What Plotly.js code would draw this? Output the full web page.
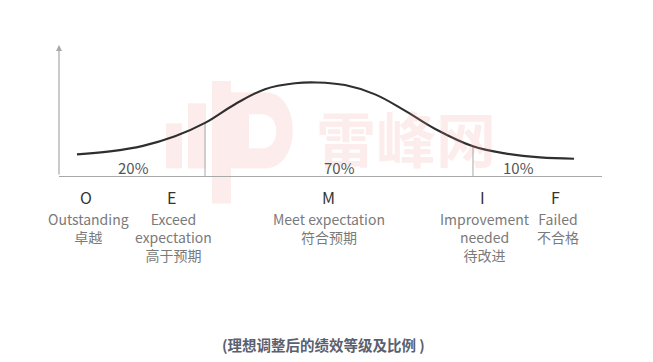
<!DOCTYPE html>
<html>
<head>
<meta charset="utf-8">
<script src="https://cdn.plot.ly/plotly-3.0.1.min.js"></script>
<style>html,body{margin:0;padding:0;background:#fff;}#chart{width:653px;height:362px;}</style>
</head>
<body>
<div id="chart"></div>
<script>
// ---- data ----
var curveX = [3.31, 9.39, 15.47, 21.36, 26.89, 32.41, 37.94, 43.46, 47.51, 52.67, 58.2, 63.7, 69.2, 76.24, 82.14, 88.58, 94.84];
var curveY = [16.5, 18.8, 23.0, 30.3, 40.5, 54.8, 66.3, 70.8, 71.4, 69.4, 62.3, 49.9, 36.1, 22.7, 17.3, 14.2, 13.2];

var grades = ['O', 'E', 'M', 'I', 'F'];
var gradePos = [4.97, 20.8, 49.7, 77.9, 91.5];
var gradeDesc = ['Outstanding<br>卓越', 'Exceed<br>expectation<br>高于预期', 'Meet expectation<br>符合预期', 'Improvement<br>needed<br>待改进', 'Failed<br>不合格'];
var descPos = [5.5, 21.0, 49.7, 78.5, 91.9];

var shareLabels = ['20%', '70%', '10%'];
var sharePos = [13.8, 51.6, 84.7];

var dividerX = [26.89, 76.24];
var dividerTop = [40.5, 22.7];

var caption = '(理想调整后的绩效等级及比例 )';

// ---- build ----
var FONT = '"Noto Sans CJK SC", "Noto Sans", sans-serif';
var L = 59, R = 51, T = 45, B = 186.4;
var PW = 653 - L - R, PH = 362 - T - B;
function px(x) { return (x - L) / PW; }
function py(y) { return (362 - B - y) / PH; }

var divX = [], divY = [];
dividerX.forEach(function (x, i) { divX.push(x, x, null); divY.push(0, dividerTop[i], null); });

var traces = [
  { x: divX, y: divY, mode: 'lines', line: { color: '#a8a8a8', width: 1 }, hoverinfo: 'skip' },
  { x: curveX, y: curveY, mode: 'lines', line: { color: '#2f2f2f', width: 2.1, shape: 'spline', smoothing: 1.1 }, hoverinfo: 'skip' }
];

var ann = [];
// watermark text (decoration, drawn first)
ann.push({ x: px(406), y: py(136), xref: 'paper', yref: 'paper', text: '<b>雷峰网</b>', showarrow: false,
  font: { family: FONT, size: 60, color: 'rgba(240,150,140,0.17)' }, xanchor: 'center', yanchor: 'middle' });
// y axis arrow
ann.push({ x: 0, y: 100, ax: 0, ay: 0, xref: 'x', yref: 'y', axref: 'x', ayref: 'y', text: '', showarrow: true,
  arrowhead: 2, arrowsize: 1, arrowwidth: 1.2, arrowcolor: '#a8a8a8' });
shareLabels.forEach(function (t, i) {
  ann.push({ x: sharePos[i], y: 6.6, xref: 'x', yref: 'y', text: t, showarrow: false,
    font: { family: FONT, size: 15, color: '#555' }, xanchor: 'center', yanchor: 'middle' });
});
grades.forEach(function (g, i) {
  ann.push({ x: gradePos[i], y: py(197), xref: 'x', yref: 'paper', text: g, showarrow: false,
    font: { family: FONT, size: 16, color: '#333' }, xanchor: 'center', yanchor: 'middle' });
  ann.push({ x: descPos[i], y: py(207), xref: 'x', yref: 'paper', text: gradeDesc[i], showarrow: false,
    font: { family: FONT, size: 14, color: '#7a7a7a' }, xanchor: 'center', yanchor: 'top', align: 'center' });
});
ann.push({ x: px(323), y: py(344), xref: 'paper', yref: 'paper', text: '<b>' + caption + '</b>', showarrow: false,
  font: { family: FONT, size: 14.5, color: '#5a6070' }, xanchor: 'center', yanchor: 'middle' });

// watermark logo (decoration)
var WM = 'rgba(240,150,140,0.17)';
function rect(x0, y0, x1, y1, c) {
  return { type: 'rect', xref: 'paper', yref: 'paper', x0: px(x0), x1: px(x1), y0: py(y1), y1: py(y0),
    fillcolor: c, line: { width: 0 }, layer: 'below' };
}
var shapes = [
  rect(166, 123, 182, 168, WM),
  rect(188, 103, 206, 168, WM),
  rect(212, 81, 231, 203, WM),
  { type: 'path', xref: 'paper', yref: 'paper', layer: 'below', fillcolor: WM, line: { width: 0 },
    path: 'M ' + px(231) + ',' + py(92) + ' L ' + px(265) + ',' + py(92) +
      ' C ' + px(302) + ',' + py(92) + ' ' + px(302) + ',' + py(168) + ' ' + px(265) + ',' + py(168) +
      ' L ' + px(231) + ',' + py(168) + ' Z' },
  { type: 'path', xref: 'paper', yref: 'paper', layer: 'below', fillcolor: '#ffffff', line: { width: 0 },
    path: 'M ' + px(249) + ',' + py(114) + ' L ' + px(262) + ',' + py(114) +
      ' C ' + px(281) + ',' + py(114) + ' ' + px(281) + ',' + py(148) + ' ' + px(262) + ',' + py(148) +
      ' L ' + px(249) + ',' + py(148) + ' Z' }
];

var layout = {
  width: 653, height: 362,
  margin: { l: L, r: R, t: T, b: B, pad: 0 },
  paper_bgcolor: '#ffffff', plot_bgcolor: 'rgba(0,0,0,0)',
  showlegend: false,
  xaxis: { range: [0, 100], showgrid: false, zeroline: false, showticklabels: false, ticks: '',
    showline: true, linecolor: '#a8a8a8', linewidth: 1.2, automargin: false, fixedrange: true },
  yaxis: { range: [0, 100], showgrid: false, zeroline: false, showticklabels: false, ticks: '',
    showline: false, automargin: false, fixedrange: true },
  annotations: ann,
  shapes: shapes
};

Plotly.newPlot('chart', traces, layout, { displayModeBar: false, staticPlot: true });
</script>
</body>
</html>
